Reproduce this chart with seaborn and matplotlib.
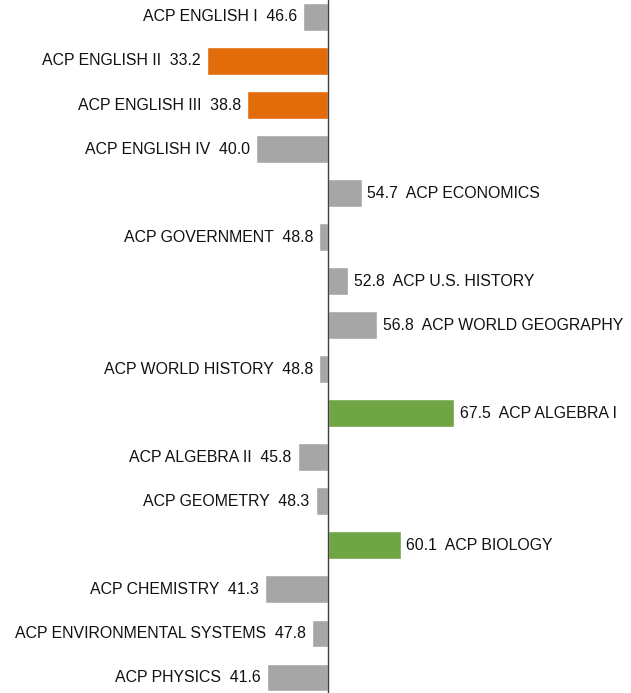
import matplotlib
matplotlib.use("Agg")
import matplotlib.pyplot as plt
import seaborn as sns
import pandas as pd

courses = ["ACP ENGLISH I", "ACP ENGLISH II", "ACP ENGLISH III", "ACP ENGLISH IV",
           "ACP ECONOMICS", "ACP GOVERNMENT", "ACP U.S. HISTORY", "ACP WORLD GEOGRAPHY",
           "ACP WORLD HISTORY", "ACP ALGEBRA I", "ACP ALGEBRA II", "ACP GEOMETRY",
           "ACP BIOLOGY", "ACP CHEMISTRY", "ACP ENVIRONMENTAL SYSTEMS", "ACP PHYSICS"]
scores = [46.6, 33.2, 38.8, 40.0, 54.7, 48.8, 52.8, 56.8,
          48.8, 67.5, 45.8, 48.3, 60.1, 41.3, 47.8, 41.6]
bar_colors = ["#A6A6A6", "#E36C0A", "#E36C0A", "#A6A6A6", "#A6A6A6", "#A6A6A6",
              "#A6A6A6", "#A6A6A6", "#A6A6A6", "#70A545", "#A6A6A6", "#A6A6A6",
              "#70A545", "#A6A6A6", "#A6A6A6", "#A6A6A6"]
center = 50.0

sns.set_theme(style="white")
plt.rcParams['font.family'] = ['Liberation Sans', 'DejaVu Sans']

df = pd.DataFrame({"course": courses, "score": scores})
df["diff"] = df["score"] - center

fig = plt.figure(figsize=(6.31, 6.93), dpi=100)
ax = fig.add_axes([0, 0, 1, 1])
sns.barplot(data=df, x="diff", y="course", hue="course", palette=bar_colors,
            orient="h", width=0.62, legend=False, ax=ax, saturation=1)

ax.set_xlim(-45.43, 41.97)
ax.set_ylim(15.36, -0.386)
ax.axvline(0, color="#404040", lw=1.0, zorder=3)

for i, (name, val, d) in enumerate(zip(courses, scores, df["diff"])):
    if d < 0:
        ax.annotate(f"{name}  {val:.1f}", (d, i), xytext=(-4.5, 0),
                    textcoords="offset points", ha="right", va="center",
                    fontsize=11.4, color="#111111")
    else:
        ax.annotate(f"{val:.1f}  {name}", (d, i), xytext=(4, 0),
                    textcoords="offset points", ha="left", va="center",
                    fontsize=11.4, color="#111111")

ax.set_xticks([])
ax.set_yticks([])
ax.set_xlabel("")
ax.set_ylabel("")
for s in ax.spines.values():
    s.set_visible(False)

fig.savefig("out.png", dpi=100)
